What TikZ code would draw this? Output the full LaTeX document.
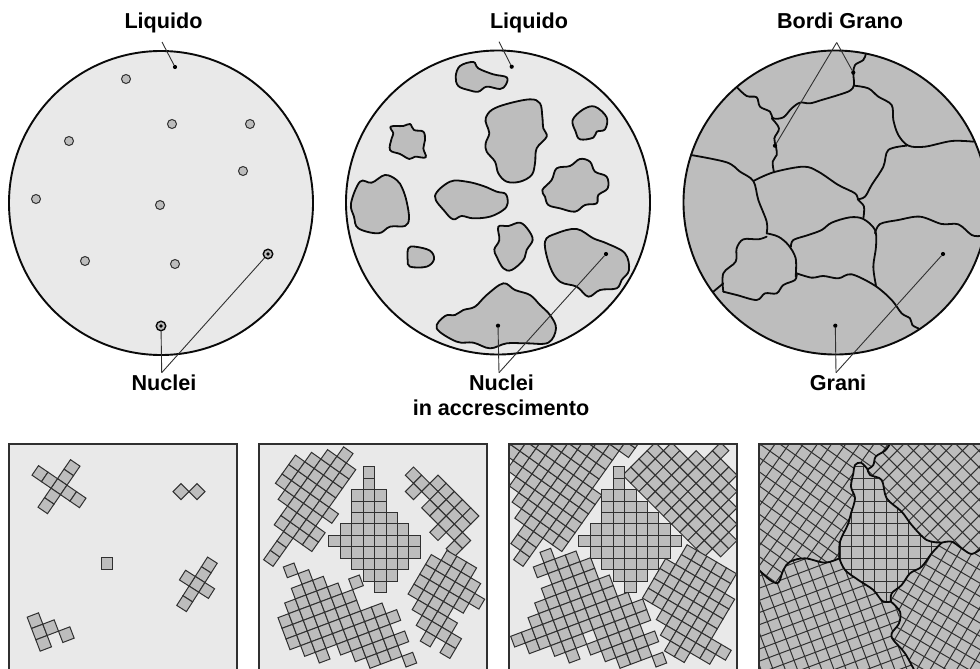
\documentclass[tikz,border=0pt]{standalone}
\usepackage{fontspec}
\setmainfont{Liberation Sans}
\definecolor{liq}{HTML}{E9E9E9}
\definecolor{sol}{HTML}{BDBDBD}
\definecolor{ink}{HTML}{303030}
\definecolor{edge}{HTML}{0A0A0A}
\tikzset{
  cellbox/.style={draw=ink,fill=sol,line width=1pt,line join=miter},
  gridline/.style={draw=ink,line width=1pt},
  grainedge/.style={draw=edge,line width=1.8pt,line cap=round,line join=round},
  framebox/.style={draw=ink,line width=1.8pt},
  disc/.style={draw=edge,fill=liq,line width=1.9pt},
  blob/.style={draw=edge,fill=sol,line width=1.8pt,line join=round},
  nucleus/.style={circle,draw=ink,fill=sol,line width=1pt,minimum size=9pt,inner sep=0pt},
  seed/.style={circle,draw=edge,fill=sol,line width=1.4pt,minimum size=9.5pt,inner sep=0pt},
  pointdot/.style={circle,fill=black,minimum size=4.2pt,inner sep=0pt},
  leader/.style={draw=ink,line width=.9pt},
  lab/.style={anchor=base,inner sep=0pt,font=\bfseries\fontsize{21.6}{24}\selectfont},
  zoomed/.style={scale=0.33333},
}
\newcommand{\cellgrain}[7]{%
  \foreach \pp/\qa/\qb in {#7}{%
    \foreach \qq in {\qa,...,\qb}{%
      \pgfmathsetmacro{\cxx}{#1+(\pp-.5)*(#3)+(\qq-.5)*(#5)}%
      \pgfmathsetmacro{\cyy}{#2+(\pp-.5)*(#4)+(\qq-.5)*(#6)}%
      \draw[cellbox] (\cxx,\cyy) -- ++(#3,#4) -- ++(#5,#6) -- ++({-(#3)},{-(#4)}) -- cycle;
    }%
  }%
}
\newcommand{\latticelines}[6]{%
  \foreach \kk in {-30,...,30}{%
    \pgfmathsetmacro{\cxx}{#1+(\kk-.5)*(#3)-40*(#5)}%
    \pgfmathsetmacro{\cyy}{#2+(\kk-.5)*(#4)-40*(#6)}%
    \pgfmathsetmacro{\dxx}{80*(#5)}\pgfmathsetmacro{\dyy}{80*(#6)}%
    \draw[gridline] (\cxx,\cyy) -- ++(\dxx,\dyy);
    \pgfmathsetmacro{\cxx}{#1+(\kk-.5)*(#5)-40*(#3)}%
    \pgfmathsetmacro{\cyy}{#2+(\kk-.5)*(#6)-40*(#4)}%
    \pgfmathsetmacro{\dxx}{80*(#3)}\pgfmathsetmacro{\dyy}{80*(#4)}%
    \draw[gridline] (\cxx,\cyy) -- ++(\dxx,\dyy);
  }%
}
\newcommand{\blobshape}[1]{\draw[blob] plot[smooth cycle,tension=.6] coordinates {#1};}
\newcommand{\edgeline}[1]{\draw[grainedge] plot[smooth,tension=.55] coordinates {#1};}
\begin{document}
\begin{tikzpicture}[x=1pt,y=-1pt]
\useasboundingbox (0,0) rectangle (980,669);
\clip (0,0) rectangle (980,669);

% ---- labels
\node[lab] (l1) at (163.5,29) {Liquido};
\node[lab] (l2) at (529,29) {Liquido};
\node[lab] (l3) at (840,29) {Bordi Grano};
\node[lab] (l4) at (164,390) {Nuclei};
\node[lab] (l5) at (501.5,390) {Nuclei};
\node[lab] (l6) at (501,415) {in accrescimento};
\node[lab] (l7) at (838,390) {Grani};

% ---- discs
\draw[disc] (161,203) circle [radius=152];
\draw[disc] (498,202.5) circle [radius=152];
\draw[disc,fill=sol] (835.5,202.5) circle [radius=152];

% ---- disc 1: nuclei
\foreach \nn/\nx/\ny in {a/126/79,b/172/124,c/250/124,d/69/141,e/243/171,f/36/199,g/160/205,h/85/261,i/175/264}{
  \node[nucleus] (nuc\nn) at (\nx,\ny) {};
}
\node[seed] (s1) at (268,254) {};
\node[seed] (s2) at (161,326) {};
\fill[black] (s1) circle [radius=1.8];
\fill[black] (s2) circle [radius=1.8];

% ---- disc 2: growing blobs
\begin{scope}[shift={(340,40)},zoomed]
\blobshape{(347,110)(360,78)(400,66)(415,85)(460,103)(500,112)(497,135)(480,147)(440,140)(415,155)(385,150)(355,138)}
\blobshape{(437,235)(455,210)(500,192)(570,178)(600,190)(607,230)(610,265)(620,290)(590,325)(585,370)(575,405)(540,425)(500,425)(475,400)(465,365)(440,335)(437,310)(448,280)(440,255)}
\blobshape{(698,240)(730,208)(765,200)(800,232)(795,268)(770,275)(760,293)(720,298)(707,275)}
\blobshape{(152,260)(190,258)(210,252)(222,270)(250,275)(255,300)(250,325)(257,352)(225,350)(208,357)(180,342)(150,330)(155,295)(160,280)}
\blobshape{(607,450)(635,420)(650,385)(690,378)(720,357)(750,365)(765,395)(800,410)(803,445)(775,465)(770,490)(735,495)(705,515)(660,505)(625,495)(615,470)}
\blobshape{(33,490)(60,425)(95,428)(135,405)(170,420)(187,445)(200,485)(207,535)(195,558)(150,560)(115,580)(55,565)(42,530)}
\blobshape{(285,468)(330,425)(380,425)(430,438)(470,455)(497,462)(503,490)(490,510)(450,530)(400,535)(365,528)(340,538)(315,515)}
\blobshape{(475,560)(505,558)(540,548)(565,570)(578,600)(560,630)(550,660)(515,690)(490,685)(470,650)(463,628)(478,600)}
\blobshape{(205,625)(225,620)(270,632)(282,658)(260,680)(210,680)(203,660)}
\blobshape{(615,605)(650,580)(710,567)(760,595)(800,610)(855,640)(867,690)(845,720)(830,745)(780,750)(745,770)(710,740)(660,725)(630,680)}
\blobshape{(290,865)(315,828)(345,825)(370,810)(405,800)(440,765)(490,730)(525,750)(570,765)(600,795)(630,825)(648,865)(625,908)(560,910)(500,910)(450,925)(400,908)(350,905)}
\end{scope}

% ---- disc 3: grain boundaries
\begin{scope}[shift={(675,40)},zoomed]
\edgeline{(572,43)(565,60)(540,75)(535,100)(537,135)(525,152)(490,165)(440,180)(405,190)(375,188)(350,205)(325,232)(295,235)(285,215)(255,200)(245,172)(215,168)(187,143)}
\edgeline{(537,137)(580,145)(610,170)(650,195)(655,240)(670,285)(700,317)(750,320)(830,303)(895,305)}
\edgeline{(695,317)(640,330)(625,380)(590,435)(570,470)(548,478)}
\edgeline{(290,235)(312,265)(298,295)(303,320)(305,345)(293,365)(297,397)}
\edgeline{(235,423)(295,397)(385,380)(430,395)(490,435)(540,460)(550,480)(567,500)(565,535)}
\edgeline{(48,345)(155,367)(195,395)(235,423)(250,480)(275,545)(275,580)}
\edgeline{(275,580)(310,590)(340,615)(362,655)(362,710)}
\edgeline{(275,590)(250,598)(205,598)(185,625)(182,665)(145,700)(145,755)}
\edgeline{(145,730)(115,755)}
\edgeline{(145,755)(185,765)(245,780)(270,760)(305,760)(325,735)(360,720)(365,700)}
\edgeline{(365,700)(410,713)(445,708)(490,715)(530,703)(600,737)(650,780)(680,820)(705,835)(712,855)(730,865)}
\edgeline{(348,620)(355,600)(400,585)(440,570)(470,548)(525,532)(565,537)(600,570)(603,620)(595,680)(603,737)}
\edgeline{(600,580)(615,552)(670,540)(735,530)(800,552)(850,553)(890,585)(915,588)}
\end{scope}

% ---- leaders
\node[pointdot] (p1) at (175,67) {};
\coordinate (q1) at (162,42);
\draw[leader] (q1) -- (p1);
\coordinate (ap1) at (161.7,372.7);
\draw[leader] (ap1) -- (s1);
\draw[leader] (ap1) -- (s2);

\node[pointdot] (p2) at (511.7,66.7) {};
\coordinate (q2) at (499,41.7);
\draw[leader] (q2) -- (p2);
\node[pointdot] (p3) at (606,254) {};
\node[pointdot] (p4) at (498,325.7) {};
\coordinate (ap2) at (499,372.7);
\draw[leader] (ap2) -- (p3);
\draw[leader] (ap2) -- (p4);

\node[pointdot] (p5) at (853.3,72.5) {};
\node[pointdot] (p6) at (775,145.7) {};
\coordinate (ap3) at (836.7,42.5);
\draw[leader] (ap3) -- (p5);
\draw[leader] (ap3) -- (p6);
\node[pointdot] (p7) at (943,254) {};
\node[pointdot] (p8) at (835.3,325.7) {};
\coordinate (ap4) at (836,372.7);
\draw[leader] (ap4) -- (p7);
\draw[leader] (ap4) -- (p8);

% ---- panel 1
\begin{scope}
\clip (9,444) rectangle (237,680);
\fill[liq] (9,444) rectangle (237,680);
\begin{scope}[shift={(0,430)},zoomed]
\cellgrain{177}{170}{28.5}{19.5}{-19.5}{28.5}{0/-2/2,-2/0/0,-1/0/0,1/0/0,2/0/0}
\cellgrain{543}{185}{24}{24}{-24}{24}{0/0/0,1/-1/-1}
\cellgrain{322}{400}{34}{0}{0}{34}{0/0/0}
\cellgrain{591}{463}{29}{18.5}{-18.5}{29}{0/-2/2,-1/0/0,1/0/0}
\cellgrain{118}{606}{34}{-13}{13}{34}{0/-1/1,1/0/0,2/1/1}
\end{scope}
\end{scope}
\draw[framebox] (9,680) -- (9,444) -- (237,444) -- (237,680);

% ---- panel 2
\begin{scope}
\clip (259,444) rectangle (487,680);
\fill[liq] (259,444) rectangle (487,680);
\begin{scope}[shift={(250,430)},zoomed]
\cellgrain{65}{385}{20}{-28.2}{28.2}{20}{0/0/0,1/0/0,2/0/0,3/-1/2,4/-1/2,5/-2/1,6/-3/2,7/-3/1,8/-3/1,9/-2/1,10/-1/1,11/0/0}
\cellgrain{515}{160}{24.5}{-24.5}{24.5}{24.5}{1/1/5,0/-1/5,-1/0/0,-1/2/6,-2/4/4,-2/6/6}
\cellgrain{122}{421}{32}{-12}{12}{32}{-2/4/6,-1/3/7,0/0/0,0/2/8,1/1/7,2/2/8,3/3/9,4/4/10,5/3/3,5/6/10,6/6/10,7/7/7,7/9/9,7/11/11}
\cellgrain{597}{385}{17.4}{-29.6}{29.6}{17.4}{0/0/2,-1/-1/3,-2/-1/4,-3/-1/3,-4/-1/2,-5/0/3,-6/1/4,-7/2/2,-7/4/4}
\cellgrain{254}{127.5}{34.3}{0}{0}{34.3}{0/6/6,1/5/7,2/2/8,3/0/9,4/2/10,5/4/9,6/5/8,7/6/7}
\end{scope}
\end{scope}
\draw[framebox] (259,680) -- (259,444) -- (487,444) -- (487,680);

% ---- panel 3
\begin{scope}
\clip (509,444) rectangle (737,680);
\fill[liq] (509,444) rectangle (737,680);
\begin{scope}[shift={(500,430)},zoomed]
\cellgrain{65}{385}{20}{-28.2}{28.2}{20}{0/0/0,1/-1/0,2/-1/0,3/-2/2,4/-3/2,5/-4/2,6/-5/2,7/-7/2,8/-8/2,9/-9/1,10/-10/1,11/-11/1,12/-12/1,13/-12/2,14/-12/2}
\cellgrain{515}{160}{24.5}{-24.5}{24.5}{24.5}{-2/-3/6,-1/-3/7,0/-3/7,1/-3/6,2/-2/5,3/0/4,4/1/3,5/1/1}
\cellgrain{122}{421}{32}{-12}{12}{32}{-4/5/5,-3/5/6,-2/4/6,-1/3/7,0/0/0,0/2/8,1/-1/7,2/0/6,2/8/8,3/0/9,4/1/10,5/3/10,6/5/10,7/6/7,7/9/9,7/11/11}
\cellgrain{597}{385}{17.4}{-29.6}{29.6}{17.4}{0/-1/3,-1/-1/3,-2/-2/4,-3/-2/4,-4/-2/4,-5/-2/4,-6/0/6,-7/1/5,-8/2/3}
\cellgrain{254}{127.5}{34.3}{0}{0}{34.3}{0/6/6,1/5/7,2/2/8,3/0/9,4/2/10,5/3/9,6/4/8,7/5/7,8/6/6}
\end{scope}
\end{scope}
\draw[framebox] (509,680) -- (509,444) -- (737,444) -- (737,680);

% ---- panel 4
\begin{scope}
\clip (759,444) rectangle (990,680);
\fill[sol] (759,444) rectangle (990,680);
\begin{scope}[shift={(745,430)},zoomed]
\latticelines{80}{385}{20}{-28.2}{28.2}{20}
% top right
\begin{scope}
\clip (435,30) -- (435,42) -- (420,62) -- (392,80) -- (385,105) -- (368,118) -- (375,135) -- (410,150) -- (425,205) -- (470,245) -- (500,285) -- (545,330) -- (590,338) -- (620,335) -- (650,355) -- (680,372) -- (710,355) -- (710,30) -- cycle;
\fill[sol] (350,0) rectangle (720,400);
\latticelines{530}{160}{24.5}{-24.5}{24.5}{24.5}
\end{scope}
% bottom left
\begin{scope}
\clip (283,385) -- (240,398) -- (180,385) -- (135,395) -- (115,420) -- (100,458) -- (75,450) -- (35,415) -- (35,725) -- (510,725) -- (480,670) -- (445,630) -- (440,610) -- (462,580) -- (465,545) -- (438,515) -- (412,513) -- (385,480) -- (340,450) -- (300,420) -- cycle;
\fill[sol] (0,350) rectangle (520,730);
\latticelines{137}{421}{32}{-12}{12}{32}
\end{scope}
% bottom right
\begin{scope}
\clip (590,338) -- (560,370) -- (530,410) -- (495,430) -- (470,465) -- (440,490) -- (438,515) -- (465,545) -- (462,580) -- (440,610) -- (445,630) -- (480,670) -- (510,725) -- (710,725) -- (710,355) -- (680,372) -- (650,355) -- (620,335) -- cycle;
\fill[sol] (400,300) rectangle (720,730);
\latticelines{612}{385}{17.4}{-29.6}{29.6}{17.4}
\end{scope}
% centre
\begin{scope}
\clip (368,118) -- (348,98) -- (330,105) -- (325,130) -- (318,170) -- (330,205) -- (318,250) -- (308,285) -- (285,335) -- (283,385) -- (300,420) -- (340,450) -- (385,480) -- (412,513) -- (438,515) -- (440,490) -- (470,465) -- (495,430) -- (530,410) -- (560,370) -- (590,338) -- (545,330) -- (500,285) -- (470,245) -- (425,205) -- (410,150) -- (375,135) -- cycle;
\fill[sol] (250,60) rectangle (620,540);
\latticelines{269}{127.5}{34.3}{0}{0}{34.3}
\end{scope}
% boundaries
\edgeline{(435,42)(420,62)(392,80)(385,105)(368,118)}
\edgeline{(368,118)(348,98)(330,105)(325,130)(318,170)(330,205)(318,250)(308,285)(285,335)(283,385)}
\edgeline{(368,118)(375,135)(410,150)(425,205)(470,245)(500,285)(545,330)(590,338)}
\edgeline{(590,338)(620,335)(650,355)(680,372)(710,355)}
\edgeline{(590,338)(560,370)(530,410)(495,430)(470,465)(440,490)(438,515)}
\edgeline{(283,385)(300,420)(340,450)(385,480)(412,513)(438,515)}
\edgeline{(438,515)(465,545)(462,580)(440,610)(445,630)(480,670)(510,725)}
\edgeline{(283,385)(240,398)(180,385)(135,395)(115,420)(100,458)(75,450)(42,420)}
\end{scope}
\end{scope}
\draw[framebox] (759,680) -- (759,444) -- (990,444);
\end{tikzpicture}
\end{document}
